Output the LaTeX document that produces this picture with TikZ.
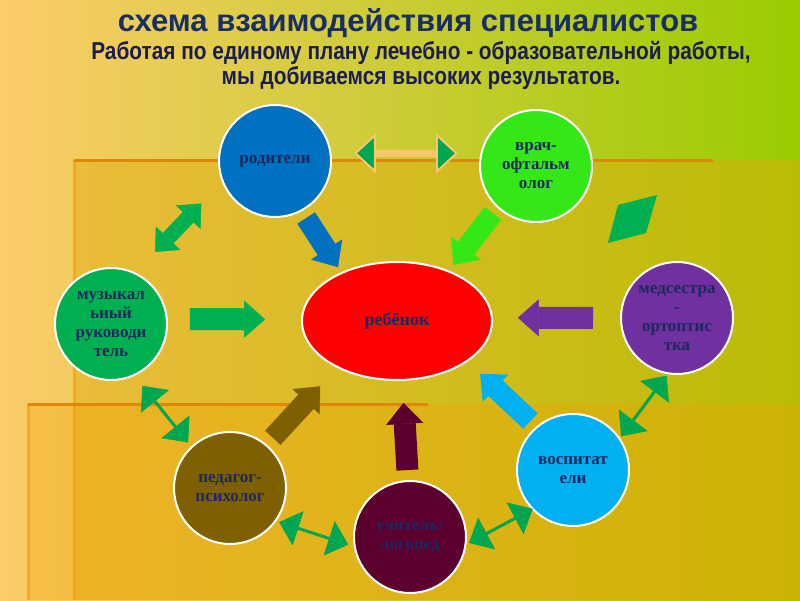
\documentclass[tikz,border=0pt]{standalone}
\usepackage{fontspec}
\setmainfont{Liberation Serif}
\newfontfamily\headfont{Liberation Sans}
\newfontfamily\subfont[FakeStretch=0.85]{Liberation Sans}
\usepackage{tikz}
\usetikzlibrary{shapes.geometric, arrows.meta}
\definecolor{bgleft}{RGB}{252,204,106}
\definecolor{bgright}{RGB}{153,204,0}
\definecolor{panelor}{RGB}{226,170,12}
\definecolor{panelor2}{RGB}{245,160,0}
\definecolor{edgeor}{RGB}{222,136,10}
\definecolor{edgelight}{RGB}{248,166,30}
\definecolor{mynavy}{RGB}{30,40,94}
\definecolor{titlenavy}{RGB}{26,46,102}
\definecolor{subnavy}{RGB}{28,28,80}
\definecolor{myblue}{RGB}{0,112,192}
\definecolor{mylime}{RGB}{52,232,24}
\definecolor{myred}{RGB}{255,0,0}
\definecolor{mygreen}{RGB}{0,176,80}
\definecolor{mypurple}{RGB}{112,48,160}
\definecolor{mycyan}{RGB}{0,176,240}
\definecolor{mymaroon}{RGB}{92,0,48}
\definecolor{mybrown}{RGB}{127,96,0}
\definecolor{arrgreen}{RGB}{0,166,80}
\definecolor{shaftor}{RGB}{247,200,110}
\tikzset{
  member/.style={circle, fill=#1, draw=white, line width=2pt,
    minimum size=112pt, inner sep=0pt, outer sep=0pt, align=center,
    text=mynavy, font=\bfseries\fontsize{17}{19}\selectfont},
  bigarrow/.style={line width=21pt, draw=#1,
    -{Triangle[length=21pt, width=37pt, line width=0.5pt]}},
  dblblock/.style={line width=15pt, draw=#1,
    {Triangle[length=19pt, width=34pt, line width=0.5pt]}-{Triangle[length=19pt, width=34pt, line width=0.5pt]}},
  link/.style={line width=3pt, draw=arrgreen,
    {Triangle[length=20pt, width=36pt, line width=0.5pt]}-{Triangle[length=20pt, width=36pt, line width=0.5pt]}},
  edgeline/.style={line width=3pt, color=#1}
}
\begin{document}
\begin{tikzpicture}[x=1pt, y=-1pt]
  \useasboundingbox (0,0) rectangle (800,600);

  % background and panels
  \shade[left color=bgleft, right color=bgright] (0,0) rectangle (800,600);
  \fill[panelor, opacity=0.45] (74,160) rectangle (800,600);
  \draw[edgeline=edgelight] (74,600) -- (74,160);
  \draw[edgeline=edgeor] (74,160) -- (713,160);
  \fill[panelor2, opacity=0.3] (28,404) rectangle (800,600);
  \draw[edgeline=edgelight] (28,600) -- (28,404);
  \draw[edgeline=edgeor] (28,404) -- (428,404);

  % heading
  \node[font=\headfont\bfseries\fontsize{31}{33}\selectfont, text=titlenavy] (title) at (408,23)
    {схема взаимодействия специалистов};
  \node[font=\subfont\bfseries\fontsize{24.5}{25}\selectfont, text=subnavy, align=center] (sub) at (421,65)
    {Работая по единому плану лечебно - образовательной работы,\\мы добиваемся высоких результатов.};

  % specialists
  \node[ellipse, fill=myred, draw=white, line width=2pt, minimum width=190pt, minimum height=118pt,
    inner sep=0pt, outer sep=0pt, text=mynavy, font=\bfseries\fontsize{18}{20}\selectfont] (child) at (397,321) {ребёнок};
  \node[member=myblue] (par) at (275,161) {родители};
  \node[member=mylime] (doc) at (536,166) {врач-\\офтальм\\олог};
  \node[member=mygreen] (muz) at (111,324) {музыкал\\ьный\\руководи\\тель};
  \node[member=mypurple] (nurse) at (677,318) {медсестра\\-\\ортоптис\\тка};
  \node[member=mycyan] (tutor) at (573,470) {воспитат\\ели};
  \node[member=mymaroon] (logo) at (410,537) {учитель-\\логопед};
  \node[member=mybrown] (psy) at (230,488) {педагог-\\психолог};

  % arrows to the child
  \draw[bigarrow=myblue, shorten <=9pt, shorten >=7pt] (par.-62) -- (child.139);
  \draw[bigarrow=mylime, shorten <=8pt, shorten >=8pt] (doc.-133) -- (child.44);
  \draw[bigarrow=mygreen, line width=22pt, shorten <=23pt, shorten >=37pt] (muz.5) -- (child.179);
  \draw[bigarrow=mypurple, line width=22pt, shorten <=28pt, shorten >=26pt] (nurse.180) -- (child.2);
  \draw[bigarrow=mycyan, shorten <=9pt, shorten >=18.6pt] (tutor.130) -- (child.-30);
  \draw[bigarrow=mymaroon, line width=22pt, shorten <=11pt, shorten >=23pt] (logo.92) -- (child.-85);
  \draw[bigarrow=mybrown, shorten <=10pt, shorten >=26pt] (psy.50) -- (child.-142);

  % links between specialists
  \draw[line width=7pt, draw=shaftor,
    {Triangle[length=22pt, width=40pt, fill=arrgreen, line width=2pt]}-{Triangle[length=22pt, width=40pt, fill=arrgreen, line width=2pt]},
    shorten <=23.5pt, shorten >=23.5pt] (par.8) -- (doc.167);
  \draw[dblblock=mygreen, shorten <=29.5pt, shorten >=31pt] (muz.65) -- (par.201);
  \fill[mygreen] (608,243) -- (618,205) -- (657,195) -- (646,233) -- cycle;
  \draw[link, shorten <=13.7pt, shorten >=6pt] (muz.-66) -- (psy.133);
  \draw[link, shorten <=4pt, shorten >=7pt] (psy.-36) -- (logo.190);
  \draw[link, shorten <=4pt] (logo.-8) -- (tutor.-136);
  \draw[link, shorten <=3pt, shorten >=3pt] (tutor.34) -- (nurse.-99);
\end{tikzpicture}
\end{document}
